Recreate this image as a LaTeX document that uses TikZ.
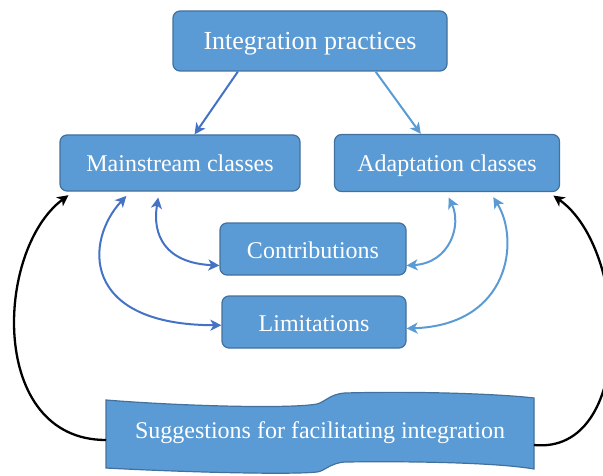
\documentclass[tikz,border=0pt]{standalone}
\usepackage{fontspec}
\setmainfont{Liberation Serif}
\usetikzlibrary{arrows.meta}
\definecolor{boxfill}{HTML}{5B9BD5}
\definecolor{boxline}{HTML}{41719C}
\definecolor{darkarrow}{HTML}{4472C4}
\definecolor{lightarrow}{HTML}{5B9BD5}
\begin{document}
\begin{tikzpicture}[x=1pt,y=1pt,
    >={Stealth[length=11pt,width=11pt,inset=3pt]},
    box/.style={draw=boxline, fill=boxfill, line width=1.2pt, rounded corners=7pt,
        text=white, inner sep=0pt, text height=20pt, text depth=2pt, font=\fontsize{24}{28}\selectfont},
    darklink/.style={line width=2pt, darkarrow},
    lightlink/.style={line width=2pt, lightarrow},
    backlink/.style={line width=2.3pt, black}]
    \useasboundingbox (0,0) rectangle (603,475);
	\node[box, minimum width=274pt, minimum height=60pt, font=\fontsize{26}{30}\selectfont] (practices) at (310,434) {Integration practices};
	\node[box, minimum width=240pt, minimum height=56pt] (mainstream) at (180,312) {Mainstream classes};
	\node[box, minimum width=225pt, minimum height=57pt] (adaptation) at (447,312) {Adaptation classes};
	\node[box, minimum width=186pt, minimum height=52pt] (contrib) at (313,226) {Contributions};
	\node[box, minimum width=184pt, minimum height=52pt] (limits) at (314,153) {Limitations};
	% wavy banner at the bottom
	\draw[draw=boxline, fill=boxfill, line width=1.2pt] (106,75) .. controls (180,69) and (290,66) .. (317,71)
	    .. controls (325,73) and (330,81) .. (345,82) .. controls (420,84) and (500,81) .. (534,77) -- (534,6)
	    .. controls (500,12) and (420,14) .. (345,13) .. controls (330,12) and (325,4) .. (317,3)
	    .. controls (290,0) and (180,3) .. (106,7) -- cycle;
	\node[text=white, font=\fontsize{24}{28}\selectfont] (suggest) at (320,42) {Suggestions for facilitating integration};
	\coordinate (suggestW) at (106,35);
	\coordinate (suggestE) at (534,30);
	% arrows from the top box
	\draw[->, darklink] (practices.203) -- (mainstream.63);
	\draw[->, lightlink] (practices.335) -- (adaptation.132);
	% both ways between classes and results
	\draw[<->, darklink, shorten <=6pt] (mainstream.234) .. controls (152,240) and (165,212) .. (contrib.190);
	\draw[<->, darklink, shorten <=6pt] (mainstream.210) .. controls (85,235) and (80,150) .. (limits.182);
	\draw[<->, lightlink, shorten <=6pt] (adaptation.268) .. controls (462,250) and (450,212) .. (contrib.350);
	\draw[<->, lightlink, shorten <=6pt] (adaptation.326) .. controls (520,235) and (510,150) .. (limits.356);
	% feedback from the suggestions
	\draw[->, backlink, shorten >=6pt] (suggestW) .. controls (-12,35) and (-5,225) .. (mainstream.195);
	\draw[->, backlink, shorten >=6pt] (suggestE) .. controls (635,20) and (630,225) .. (adaptation.344);
\end{tikzpicture}
\end{document}
